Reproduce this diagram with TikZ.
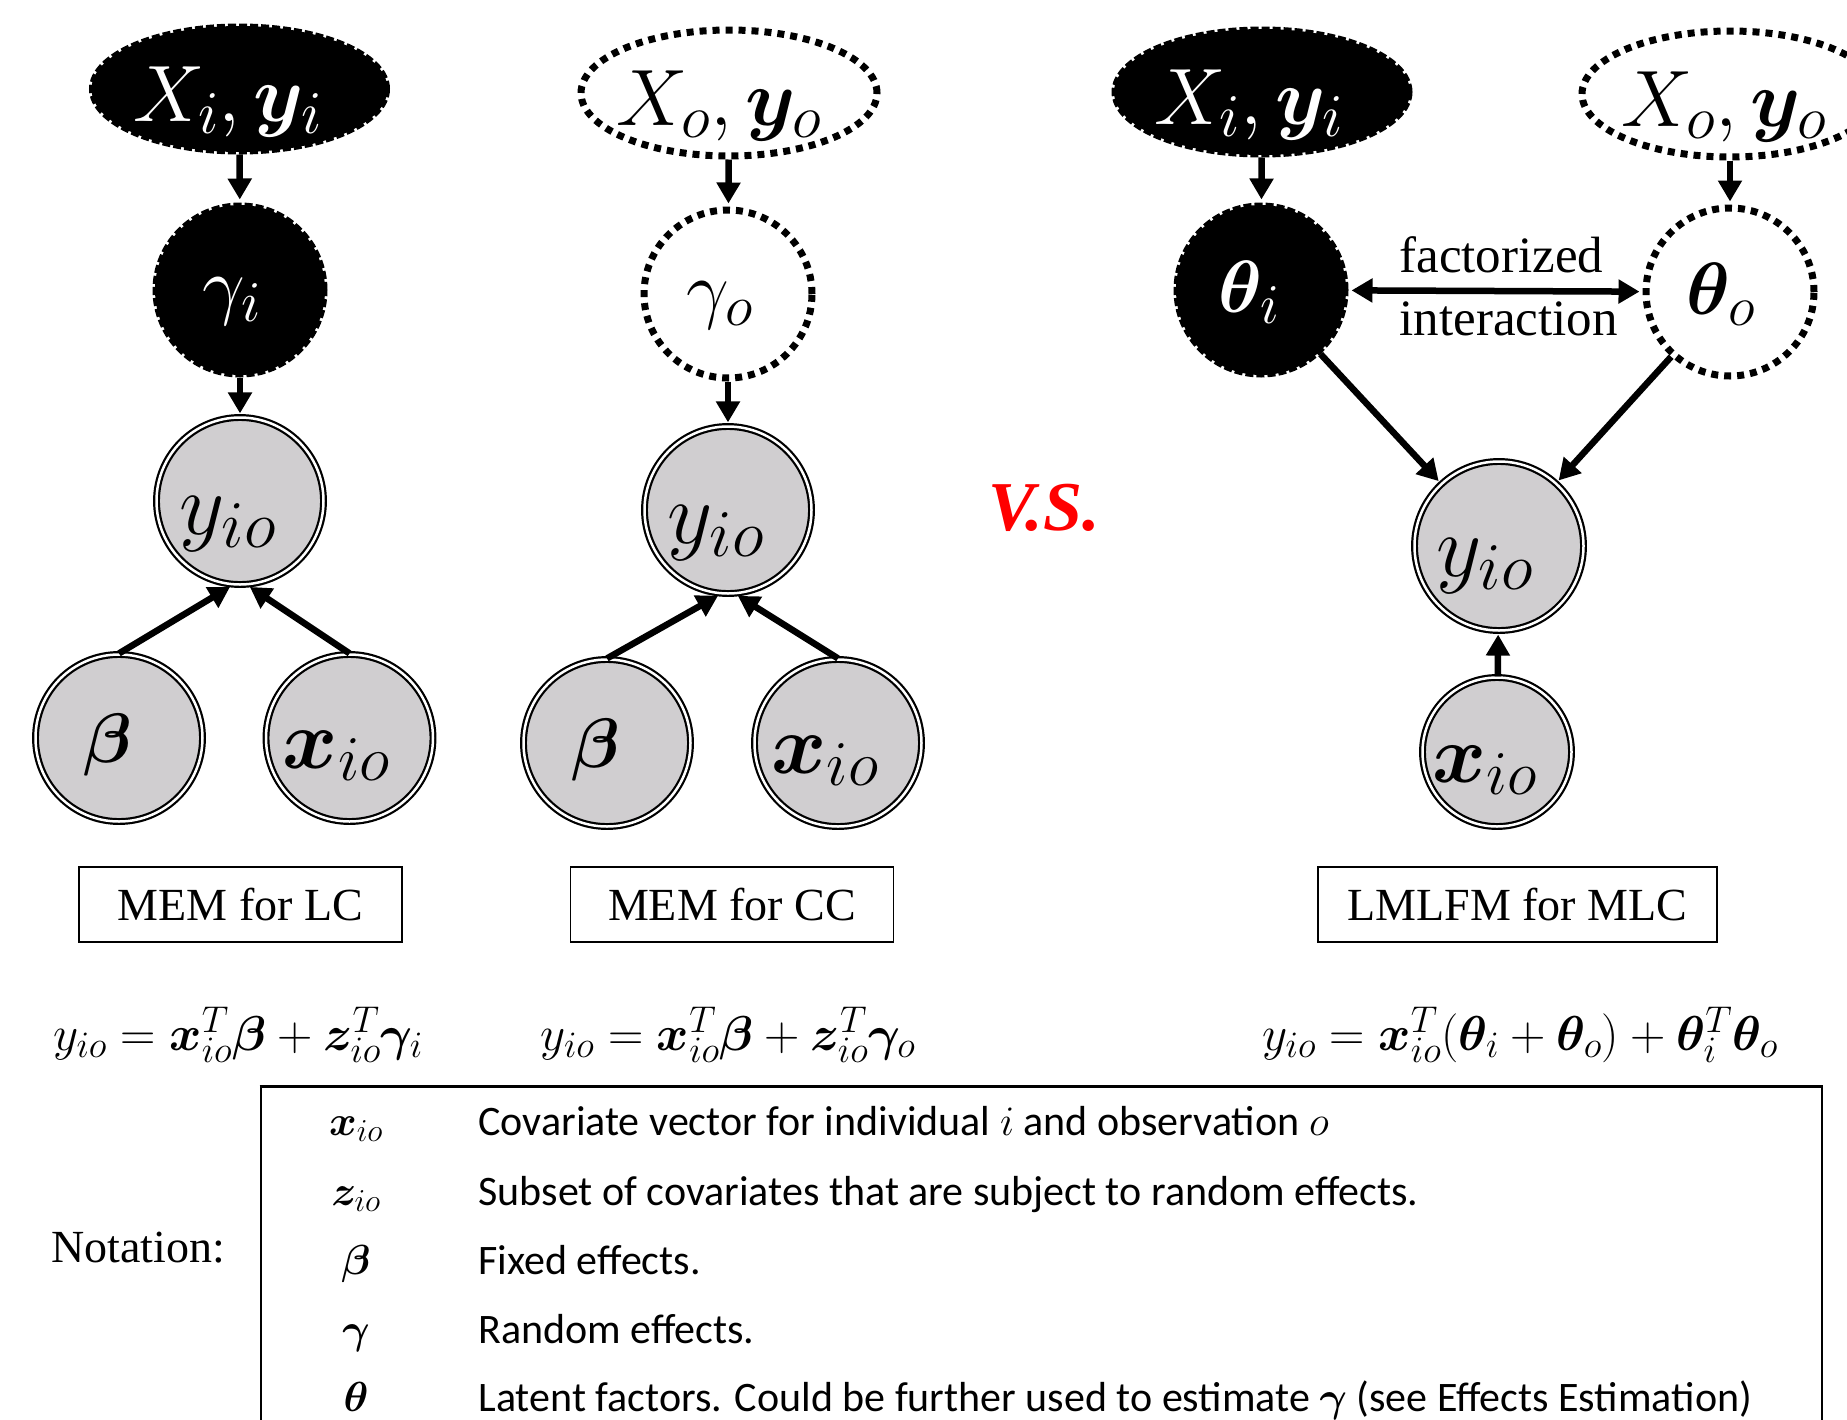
\RequirePackage{fix-cm}
\documentclass[tikz,border=0pt]{standalone}
\usepackage{amsmath}
\usepackage{fontspec}
\setmainfont{Liberation Serif}
\newfontfamily\calfont{Carlito}
\usepackage{bm}
\usetikzlibrary{shapes.geometric,arrows.meta}
\definecolor{obsgray}{RGB}{208,206,208}
\definecolor{vsred}{RGB}{255,0,0}
\def\defaultscriptratio{.76}
\newcommand{\fsz}[1]{\fontsize{#1}{#1}\selectfont}
% label: horizontal shift, drop of baseline below centre, content
\newcommand{\lbl}[3]{\makebox[0pt][c]{\hspace*{#1pt}\raisebox{-#2pt}[0pt][0pt]{#3}\hspace*{-#1pt}}}
\begin{document}
\begin{tikzpicture}[x=1pt,y=-1pt,
  obs/.style={circle, fill=obsgray, draw=black, line width=2.2pt, double=white, double distance=2.5pt, inner sep=0pt, minimum size=#1},
  obs/.default=167pt,
  latI/.style={fill=black, draw=black, line width=5pt, dash pattern=on 8pt off 3pt, inner sep=0pt, text=white},
  latO/.style={fill=white, draw=black, line width=7pt, dash pattern=on 7pt off 6pt, inner sep=0pt},
  ellnode/.style={ellipse, minimum width=296pt, minimum height=126pt},
  circnode/.style={circle, minimum size=170pt},
  arr/.style={line width=6.5pt, -{Triangle[length=21pt,width=23pt]}, shorten >=3pt},
  dblarr/.style={line width=6.5pt, {Triangle[length=21pt,width=23pt]}-{Triangle[length=21pt,width=23pt]}, shorten >=3pt, shorten <=3pt},
  capbox/.style={draw=black, line width=1.8pt, minimum height=75pt, inner sep=0pt, font=\fsz{46}},
  bigX/.style={font=\fsz{80}},
  bigY/.style={font=\fsz{88}},
  bigG/.style={font=\fsz{76}},
  eqn/.style={anchor=base, font=\fsz{49}},
  notsym/.style={anchor=base, font=\fsz{42}},
  notdesc/.style={anchor=base west, font=\calfont\fsz{42}}
]
\useasboundingbox (0,0) rectangle (1847,1419);

% ---------- left column: MEM for LC ----------
\node[ellnode, latI, bigX] (XiL) at (239.5,89) {\lbl{-12}{32}{$X_i, \bm{y}_i$}};
\node[circnode, latI, bigG] (gamL) at (240,290) {\lbl{-8}{20}{$\gamma_i$}};
\node[obs, bigY] (yioL) at (240,501) {\lbl{-12}{33}{$y_{io}$}};
\node[obs, font=\fsz{70}] (betaL) at (119,738) {\lbl{-11}{24}{$\bm{\beta}$}};
\node[obs, font=\fsz{84}] (xioL) at (349.5,738) {\lbl{-13}{30}{$\bm{x}_{io}$}};
\node[capbox, minimum width=323pt] (boxL) at (240.5,904.5) {MEM for LC};
\node[eqn] (eqL) at (238,1050) {$y_{io} = \bm{x}_{io}^{T}\bm{\beta} + \bm{z}_{io}^{T}\bm{\gamma}_i$};

\draw[arr] (XiL) -- (gamL);
\draw[arr] (gamL) -- (yioL);
\draw[arr] (betaL.north) -- (yioL.265);
\draw[arr] (xioL.north) -- (yioL.275);

% ---------- middle column: MEM for CC ----------
\node[ellnode, latO, bigX] (XoM) at (729,93) {\lbl{-10}{32}{$X_o, \bm{y}_o$}};
\node[circnode, latO, bigG, minimum size=168pt] (gamM) at (728,294) {\lbl{-8}{20}{$\gamma_o$}};
\node[obs, bigY] (yioM) at (728,510) {\lbl{-12}{33}{$y_{io}$}};
\node[obs, font=\fsz{70}] (betaM) at (607,743) {\lbl{-11}{24}{$\bm{\beta}$}};
\node[obs, font=\fsz{84}] (xioM) at (838,743) {\lbl{-13}{30}{$\bm{x}_{io}$}};
\node[capbox, minimum width=323pt] (boxM) at (732,904.5) {MEM for CC};
\node[eqn] (eqM) at (728,1050) {$y_{io} = \bm{x}_{io}^{T}\bm{\beta} + \bm{z}_{io}^{T}\bm{\gamma}_o$};

\draw[arr] (XoM) -- (gamM);
\draw[arr] (gamM) -- (yioM);
\draw[arr] (betaM.north) -- (yioM.265);
\draw[arr] (xioM.north) -- (yioM.275);

% ---------- V.S. ----------
\node[anchor=base, text=vsred, font=\fsz{70}\bfseries\itshape] (vs) at (1044,530) {V.S.};

% ---------- right column: LMLFM for MLC ----------
\node[ellnode, latI, bigX] (XiR) at (1262,92) {\lbl{-13}{32}{$X_i, \bm{y}_i$}};
\node[ellnode, latO, bigX] (XoR) at (1730,94) {\lbl{-6}{32}{$X_o, \bm{y}_o$}};
\node[circnode, latI, font=\fsz{74}] (thI) at (1261,290) {\lbl{-12}{22}{$\bm{\theta}_i$}};
\node[circnode, latO, font=\fsz{74}, minimum size=168pt] (thO) at (1730,292) {\lbl{-9}{22}{$\bm{\theta}_o$}};
\node[obs=169pt, bigY] (yioR) at (1499,546) {\lbl{-14}{30}{$y_{io}$}};
\node[obs=149pt, font=\fsz{82}] (xioR) at (1497,752) {\lbl{-12}{30}{$\bm{x}_{io}$}};
\node[capbox, minimum width=399pt] (boxR) at (1517.5,904.5) {LMLFM for MLC};
\node[eqn] (eqR) at (1520,1050) {$y_{io} = \bm{x}_{io}^{T}(\bm{\theta}_i + \bm{\theta}_o) + \bm{\theta}_i^{T}\bm{\theta}_o$};

\node[anchor=base west, font=\fsz{51}] (fact) at (1396,272) {factorized};
\node[anchor=base west, font=\fsz{51}] (inter) at (1396,335) {interaction};

\draw[arr] (XiR) -- (thI);
\draw[arr] (XoR) -- (thO);
\draw[arr] (thI) -- (yioR);
\draw[arr] (thO) -- (yioR);
\draw[arr] (xioR) -- (yioR);
\draw[dblarr] (thI) -- (thO);

% ---------- notation ----------
\node[anchor=base west, font=\fsz{46}] (notation) at (48,1262) {Notation:};
\draw[line width=2pt] (261,1440) -- (261,1086);
\draw[line width=2pt] (1822,1086) -- (1822,1440);
\draw[line width=3pt] (259.5,1086) -- (1823,1086);

\node[notsym] (s1) at (356,1135) {$\bm{x}_{io}$};
\node[notdesc] (d1) at (475,1135) {Covariate vector for individual $i$ and observation $o$};
\node[notsym] (s2) at (356,1205) {$\bm{z}_{io}$};
\node[notdesc] (d2) at (475,1205) {Subset of covariates that are subject to random effects.};
\node[notsym] (s3) at (356,1274) {$\bm{\beta}$};
\node[notdesc] (d3) at (475,1274) {Fixed effects.};
\node[notsym] (s4) at (356,1343) {$\bm{\gamma}$};
\node[notdesc] (d4) at (475,1343) {Random effects.};
\node[notsym] (s5) at (356,1411) {$\bm{\theta}$};
\node[notdesc] (d5) at (475,1411) {Latent factors. Could be further used to estimate $\bm{\gamma}$ (see Effects Estimation)};
\end{tikzpicture}
\end{document}
